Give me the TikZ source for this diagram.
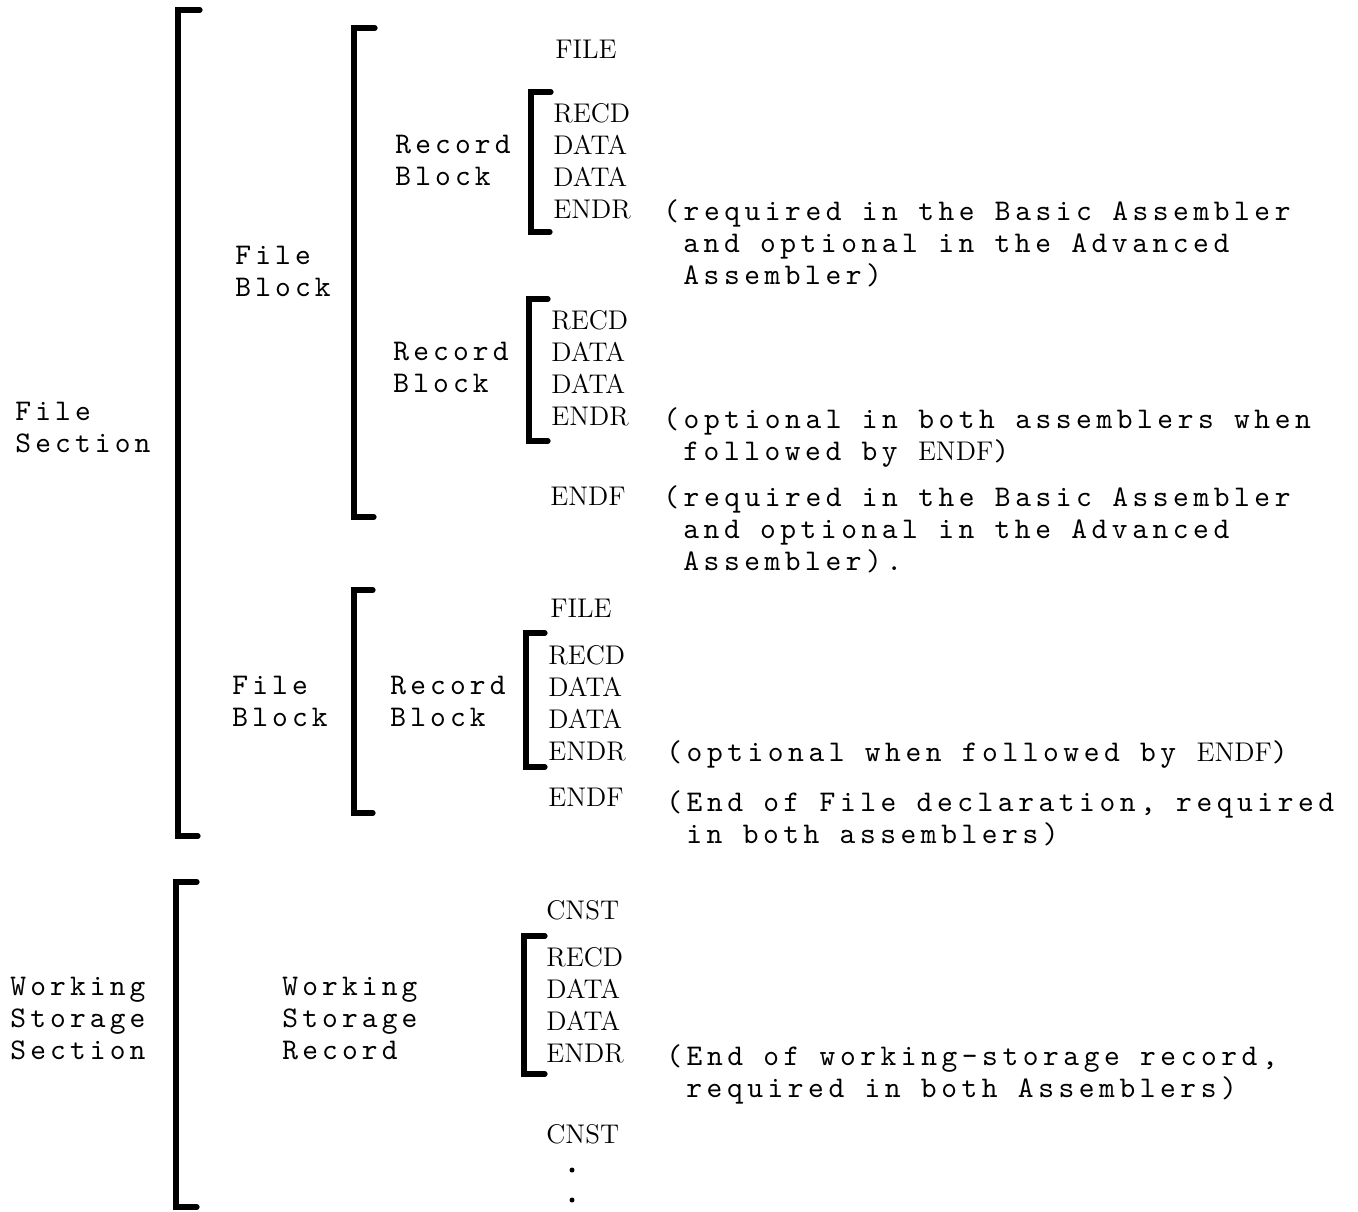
\documentclass[tikz,border=0pt]{standalone}
\usepackage{fontspec}
\usepackage{tikz}
\usetikzlibrary{positioning}
\newfontfamily\twfam{lmmono10-regular}[Extension=.otf,LetterSpace=13.8]
\newfontfamily\ntfam{lmmono10-regular}[Extension=.otf,LetterSpace=15.2]
\newcommand{\twfont}{\fontsize{15}{15.9}\twfam}
\newcommand{\ntfont}{\fontsize{15}{15.9}\ntfam}
\newcommand{\kwfont}{\fontsize{13.5}{15.9}\rmfamily}

\begin{document}
\begin{tikzpicture}[
    x=0.5pt,y=-0.5pt,
    lbl/.style={font=\twfont,align=left,anchor=base west,inner sep=0pt},
    note/.style={font=\ntfont,align=left,anchor=base west,inner sep=0pt},
    kw/.style={font=\kwfont,align=left,anchor=base west,inner sep=0pt},
    brk/.style={line width=2.6pt,line cap=round}
  ]
    \useasboundingbox (0,0) rectangle (1358,1211);
    % file section (multi-line nodes sit on their last baseline)
    \node[lbl] (fsec) at (15,452) {File\\Section};
    \node[lbl] (fblkA) at (235,296) {File\\Block};
    \node[lbl] (rblkA) at (395,185) {Record\\Block};
    \node[kw] (fileA) at (555,58) {FILE};
    \node[kw] (recA) at (553,218) {RECD\\DATA\\DATA\\ENDR};
    \node[note] (noteA) at (663,284) {(required in the Basic Assembler\\\hspace*{10pt}and optional in the Advanced\\\hspace*{10pt}Assembler)};
    \node[lbl] (rblkB) at (393,392) {Record\\Block};
    \node[kw] (recB) at (551,425) {RECD\\DATA\\DATA\\ENDR};
    \node[note] (noteB) at (663,460) {(optional in both assemblers when\\\hspace*{10pt}followed by {\kwfont ENDF})};
    \node[kw] (endfA) at (550,505) {ENDF};
    \node[note] (noteC) at (663,570) {(required in the Basic Assembler\\\hspace*{10pt}and optional in the Advanced\\\hspace*{10pt}Assembler).};
    \node[lbl] (fblkB) at (232,726) {File\\Block};
    \node[lbl] (rblkC) at (390,726) {Record\\Block};
    \node[kw] (fileB) at (550,617) {FILE};
    \node[kw] (recC) at (548,760) {RECD\\DATA\\DATA\\ENDR};
    \node[note] (noteD) at (666,761) {(optional when followed by {\kwfont ENDF})};
    \node[kw] (endfB) at (548,806) {ENDF};
    \node[note] (noteE) at (666,843) {(End of File declaration, required\\\hspace*{10pt}in both assemblers)};
    % working storage section
    \node[lbl] (wsec) at (10,1059) {Working\\Storage\\Section};
    \node[lbl] (wrec) at (282,1059) {Working\\Storage\\Record};
    \node[kw] (cnstA) at (546,919) {CNST};
    \node[kw] (recD) at (546,1062) {RECD\\DATA\\DATA\\ENDR};
    \node[note] (noteF) at (666,1097) {(End of working-storage record,\\\hspace*{10pt}required in both Assemblers)};
    \node[kw] (cnstB) at (546,1143) {CNST};
    \fill (572,1170) circle (2.5) (572,1200) circle (2.5);
    % brackets
    \draw[brk] (200,10) -| (178,836) -- (198,836);
    \draw[brk] (375,28) -| (354,517) -- (374,517);
    \draw[brk] (551,92) -| (531,232) -- (550,232);
    \draw[brk] (548,299) -| (529,441) -- (548,441);
    \draw[brk] (373,590) -| (354,813) -- (373,813);
    \draw[brk] (545,633) -| (526,767) -- (545,767);
    \draw[brk] (197,882) -| (176,1207) -- (197,1207);
    \draw[brk] (545,936) -| (524,1074) -- (545,1074);
  \end{tikzpicture}
\end{document}
